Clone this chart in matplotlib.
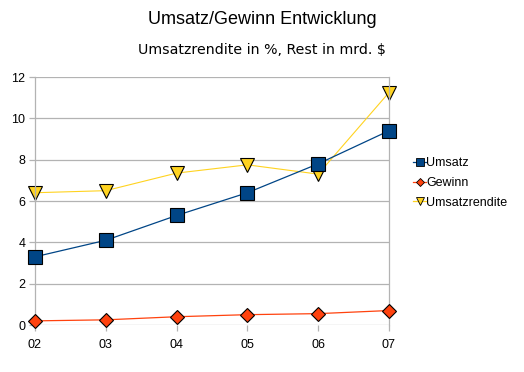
import matplotlib
matplotlib.use("Agg")
import matplotlib.pyplot as plt
from matplotlib.lines import Line2D

plt.rcParams['font.family'] = ['Liberation Sans', 'DejaVu Sans']

categories = ["02", "03", "04", "05", "06", "07"]
umsatz = [3.3, 4.1, 5.3, 6.4, 7.8, 9.4]
gewinn = [0.2, 0.25, 0.4, 0.5, 0.55, 0.7]
umsatzrendite = [6.4, 6.5, 7.35, 7.75, 7.3, 11.25]
yticks = [0, 2, 4, 6, 8, 10, 12]

fig = plt.figure(figsize=(5.24, 3.72), dpi=100)
ax = fig.add_axes([35/524, 47/372, (389-35)/524, (325-77)/372])

x = list(range(len(categories)))
grid_c = '#b3b3b3'
for y in yticks:
    ax.axhline(y, color=grid_c, lw=0.9, zorder=0)

l1, = ax.plot(x, umsatz, color='#004586', lw=0.9, marker='s', markersize=10,
              markerfacecolor='#004586', markeredgecolor='black', markeredgewidth=0.8, zorder=3)
l2, = ax.plot(x, gewinn, color='#ff420e', lw=0.9, marker='D', markersize=7.5,
              markerfacecolor='#ff420e', markeredgecolor='black', markeredgewidth=0.8, zorder=3)
l3, = ax.plot(x, umsatzrendite, color='#ffd320', lw=0.8, marker='v', markersize=10,
              markerfacecolor='#ffd320', markeredgecolor='black', markeredgewidth=0.8, zorder=2)

ax.set_xlim(0, len(categories) - 1)
ax.set_ylim(0, 12)
ax.set_xticks(x)
ax.set_xticklabels(categories)
ax.set_yticks(yticks)
ax.set_yticklabels([str(v) for v in yticks])
ax.tick_params(axis='both', labelsize=9, color=grid_c, length=4, width=0.9)
ax.tick_params(axis='y', pad=3)
ax.tick_params(axis='x', pad=6)
for s in ['top', 'bottom']:
    ax.spines[s].set_visible(False)
for s in ['left', 'right']:
    ax.spines[s].set_color(grid_c)
    ax.spines[s].set_linewidth(0.9)
for l in (l1, l2, l3):
    l.set_clip_on(False)

fig.text(0.5, 1 - 20/372, "Umsatz/Gewinn Entwicklung", ha='center', va='center', fontsize=13)
fig.text(0.5, 1 - 50/372, "Umsatzrendite in %, Rest in mrd. $", ha='center', va='center',
         fontsize=10.2, family=['DejaVu Sans'])

handles = [
    Line2D([], [], color='#004586', lw=0.9, marker='s', markersize=6, markerfacecolor='#004586', markeredgecolor='black', markeredgewidth=0.6),
    Line2D([], [], color='#ff420e', lw=0.9, marker='D', markersize=4.5, markerfacecolor='#ff420e', markeredgecolor='black', markeredgewidth=0.6),
    Line2D([], [], color='#ffd320', lw=0.9, marker='v', markersize=6, markerfacecolor='#ffd320', markeredgecolor='black', markeredgewidth=0.6),
]
fig.legend(handles, ["Umsatz", "Gewinn", "Umsatzrendite"], loc='center left',
           bbox_to_anchor=(407/524, 1 - 183/372), frameon=False, fontsize=9,
           handlelength=1.0, handletextpad=0.05, labelspacing=0.62, borderpad=0)

fig.savefig("out.png", dpi=100)
